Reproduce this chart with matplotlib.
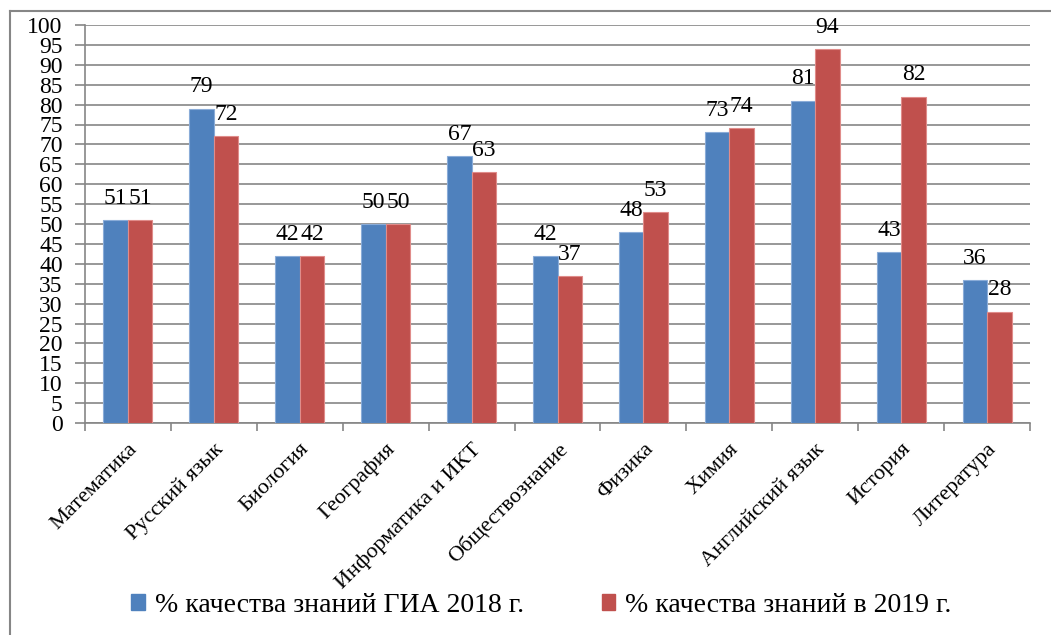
import numpy as np
import matplotlib.pyplot as plt
from matplotlib.patches import Patch

# data
subjects = ['Математика', 'Русский язык', 'Биология', 'География',
            'Информатика и ИКТ', 'Обществознание', 'Физика', 'Химия',
            'Английский язык', 'История', 'Литература']
quality_2018 = [51, 79, 42, 50, 67, 42, 48, 73, 81, 43, 36]
quality_2019 = [51, 72, 42, 50, 63, 37, 53, 74, 94, 82, 28]
series_names = ['% качества знаний ГИА 2018 г.', '% качества знаний в 2019 г.']

plt.rcParams['font.family'] = 'serif'
plt.rcParams['font.serif'] = ['Liberation Serif', 'DejaVu Serif']

fig = plt.figure(figsize=(10.51, 6.35), dpi=100)
ax = fig.add_axes([85 / 1051, 1 - 423 / 635, (1030 - 85) / 1051, (423 - 25) / 635])

x = np.arange(len(subjects))
w = 0.285
blue = '#4F81BD'
red = '#C0504D'
b1 = ax.bar(x - w / 2, quality_2018, w, color=blue, edgecolor='#8AACD8', linewidth=0.8, zorder=3)
b2 = ax.bar(x + w / 2, quality_2019, w, color=red, edgecolor='#E08C8A', linewidth=0.8, zorder=3)

# data labels above bars
for rect, v in zip(b1, quality_2018):
    ax.text(rect.get_x() + rect.get_width() / 2, v + 2.8, str(v), ha='center', va='bottom', fontsize=17)
for rect, v in zip(b2, quality_2019):
    ax.text(rect.get_x() + rect.get_width() / 2, v + 2.8, str(v), ha='center', va='bottom', fontsize=17)

ax.set_xlim(-0.5, len(subjects) - 0.5)
ax.set_ylim(0, 100)
ax.set_yticks(range(0, 101, 5))
ax.tick_params(axis='y', labelsize=17, length=7, width=1.2, color='#868686', pad=9)
ax.yaxis.grid(True, color='#868686', linewidth=1.2, zorder=0)

# category ticks at the boundaries, labels at the centres
ax.set_xticks(np.arange(-0.5, len(subjects), 1))
ax.set_xticklabels([])
ax.tick_params(axis='x', length=6, width=1.2, color='#868686')
ax.set_xticks(x, minor=True)
ax.set_xticklabels(subjects, minor=True, rotation=45, ha='right', rotation_mode='anchor', fontsize=16)
ax.tick_params(axis='x', which='minor', length=0, pad=12)

for side in ['top', 'right']:
    ax.spines[side].set_visible(False)
for side in ['left', 'bottom']:
    ax.spines[side].set_color('#868686')
    ax.spines[side].set_linewidth(1.2)

handles = [Patch(color=blue), Patch(color=red)]
fig.legend(handles, series_names, loc='center', bbox_to_anchor=(0.515, 1 - 605 / 635), ncol=2,
           frameon=False, fontsize=20, handlelength=0.5, handleheight=0.5, handletextpad=0.35,
           columnspacing=2.8)

# outer chart border (only left and top fall inside the image)
fig.add_artist(plt.Line2D([10 / 1051, 10 / 1051], [0, 1 - 11 / 635], color='#868686', linewidth=1.5))
fig.add_artist(plt.Line2D([10 / 1051, 1], [1 - 11 / 635, 1 - 11 / 635], color='#868686', linewidth=1.5))

fig.savefig('out.png', dpi=100)
